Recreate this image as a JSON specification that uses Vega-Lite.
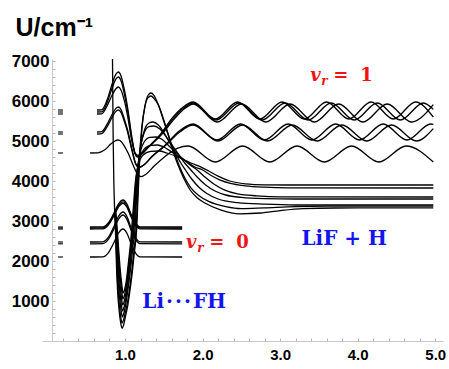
{
"$schema": "https://vega.github.io/schema/vega-lite/v6.json",
"width": 401, "height": 282,
"autosize": "none",
"padding": {"left": 42, "top": 59, "right": 6, "bottom": 28},
"background": "white",
"config": {"view": {"stroke": null}},
"datasets": {
"curves": [
{"c":"a1","x":0.64,"u":5775},{"c":"a1","x":0.70,"u":5780},{"c":"a1","x":0.77,"u":6030},{"c":"a1","x":0.83,"u":6400},{"c":"a1","x":0.88,"u":6660},{"c":"a1","x":0.915,"u":6725},{"c":"a1","x":0.95,"u":6620},{"c":"a1","x":0.99,"u":6300},{"c":"a1","x":1.03,"u":5880},{"c":"a1","x":1.09,"u":5080},{"c":"a1","x":1.13,"u":4680},{"c":"a1","x":1.16,"u":4600},{"c":"a1","x":1.20,"u":4640},{"c":"a1","x":1.30,"u":4850},{"c":"a1","x":1.45,"u":5150},{"c":"a1","x":1.62,"u":5600},{"c":"a1","x":1.75,"u":5850},{"c":"a1","x":1.877,"u":5975},{"c":"a1","x":2.164,"u":5550},{"c":"a1","x":2.451,"u":5975},{"c":"a1","x":2.738,"u":5550},{"c":"a1","x":3.025,"u":5975},{"c":"a1","x":3.312,"u":5550},{"c":"a1","x":3.599,"u":5975},{"c":"a1","x":3.886,"u":5550},{"c":"a1","x":4.173,"u":5975},{"c":"a1","x":4.46,"u":5550},{"c":"a1","x":4.747,"u":5975},{"c":"a1","x":4.975,"u":5600},
{"c":"a2","x":0.64,"u":5725},{"c":"a2","x":0.70,"u":5730},{"c":"a2","x":0.77,"u":5960},{"c":"a2","x":0.83,"u":6300},{"c":"a2","x":0.88,"u":6540},{"c":"a2","x":0.915,"u":6600},{"c":"a2","x":0.95,"u":6500},{"c":"a2","x":0.99,"u":6190},{"c":"a2","x":1.03,"u":5800},{"c":"a2","x":1.09,"u":5030},{"c":"a2","x":1.13,"u":4680},{"c":"a2","x":1.165,"u":4620},{"c":"a2","x":1.21,"u":4670},{"c":"a2","x":1.31,"u":4860},{"c":"a2","x":1.46,"u":5150},{"c":"a2","x":1.63,"u":5580},{"c":"a2","x":1.76,"u":5830},{"c":"a2","x":1.877,"u":5950},{"c":"a2","x":2.174,"u":5525},{"c":"a2","x":2.471,"u":5950},{"c":"a2","x":2.768,"u":5525},{"c":"a2","x":3.065,"u":5950},{"c":"a2","x":3.362,"u":5525},{"c":"a2","x":3.659,"u":5950},{"c":"a2","x":3.956,"u":5525},{"c":"a2","x":4.253,"u":5950},{"c":"a2","x":4.55,"u":5525},{"c":"a2","x":4.847,"u":5950},{"c":"a2","x":4.975,"u":5790},
{"c":"a3","x":0.64,"u":5675},{"c":"a3","x":0.70,"u":5680},{"c":"a3","x":0.77,"u":5880},{"c":"a3","x":0.83,"u":6130},{"c":"a3","x":0.88,"u":6300},{"c":"a3","x":0.915,"u":6350},{"c":"a3","x":0.95,"u":6270},{"c":"a3","x":0.99,"u":6020},{"c":"a3","x":1.03,"u":5660},{"c":"a3","x":1.09,"u":4990},{"c":"a3","x":1.13,"u":4700},{"c":"a3","x":1.17,"u":4640},{"c":"a3","x":1.22,"u":4700},{"c":"a3","x":1.32,"u":4880},{"c":"a3","x":1.47,"u":5160},{"c":"a3","x":1.64,"u":5560},{"c":"a3","x":1.77,"u":5810},{"c":"a3","x":1.877,"u":5925},{"c":"a3","x":2.19,"u":5475},{"c":"a3","x":2.503,"u":5925},{"c":"a3","x":2.816,"u":5475},{"c":"a3","x":3.129,"u":5925},{"c":"a3","x":3.442,"u":5475},{"c":"a3","x":3.755,"u":5925},{"c":"a3","x":4.068,"u":5475},{"c":"a3","x":4.381,"u":5925},{"c":"a3","x":4.694,"u":5475},{"c":"a3","x":4.975,"u":5910},
{"c":"b1","x":0.64,"u":5225},{"c":"b1","x":0.70,"u":5235},{"c":"b1","x":0.77,"u":5420},{"c":"b1","x":0.83,"u":5650},{"c":"b1","x":0.88,"u":5810},{"c":"b1","x":0.915,"u":5850},{"c":"b1","x":0.95,"u":5780},{"c":"b1","x":0.99,"u":5560},{"c":"b1","x":1.03,"u":5300},{"c":"b1","x":1.09,"u":4800},{"c":"b1","x":1.14,"u":4420},{"c":"b1","x":1.18,"u":4330},{"c":"b1","x":1.23,"u":4380},{"c":"b1","x":1.35,"u":4620},{"c":"b1","x":1.52,"u":4900},{"c":"b1","x":1.70,"u":5250},{"c":"b1","x":1.877,"u":5425},{"c":"b1","x":2.184,"u":5025},{"c":"b1","x":2.49,"u":5425},{"c":"b1","x":2.797,"u":5025},{"c":"b1","x":3.103,"u":5425},{"c":"b1","x":3.41,"u":5025},{"c":"b1","x":3.716,"u":5425},{"c":"b1","x":4.023,"u":5025},{"c":"b1","x":4.329,"u":5425},{"c":"b1","x":4.636,"u":5025},{"c":"b1","x":4.942,"u":5425},{"c":"b1","x":4.975,"u":5415},
{"c":"b2","x":0.64,"u":5175},{"c":"b2","x":0.70,"u":5185},{"c":"b2","x":0.77,"u":5360},{"c":"b2","x":0.83,"u":5580},{"c":"b2","x":0.88,"u":5735},{"c":"b2","x":0.915,"u":5775},{"c":"b2","x":0.95,"u":5710},{"c":"b2","x":0.99,"u":5500},{"c":"b2","x":1.03,"u":5250},{"c":"b2","x":1.09,"u":4760},{"c":"b2","x":1.14,"u":4420},{"c":"b2","x":1.185,"u":4350},{"c":"b2","x":1.24,"u":4400},{"c":"b2","x":1.36,"u":4630},{"c":"b2","x":1.53,"u":4900},{"c":"b2","x":1.71,"u":5230},{"c":"b2","x":1.877,"u":5400},{"c":"b2","x":2.197,"u":5000},{"c":"b2","x":2.517,"u":5400},{"c":"b2","x":2.837,"u":5000},{"c":"b2","x":3.157,"u":5400},{"c":"b2","x":3.477,"u":5000},{"c":"b2","x":3.797,"u":5400},{"c":"b2","x":4.117,"u":5000},{"c":"b2","x":4.437,"u":5400},{"c":"b2","x":4.757,"u":5000},{"c":"b2","x":4.975,"u":5310},
{"c":"c1","x":0.55,"u":4700},{"c":"c1","x":0.65,"u":4705},{"c":"c1","x":0.74,"u":4780},{"c":"c1","x":0.82,"u":4930},{"c":"c1","x":0.87,"u":5000},{"c":"c1","x":0.91,"u":5025},{"c":"c1","x":0.95,"u":4990},{"c":"c1","x":0.99,"u":4880},{"c":"c1","x":1.04,"u":4700},{"c":"c1","x":1.10,"u":4420},{"c":"c1","x":1.16,"u":4180},{"c":"c1","x":1.21,"u":4110},{"c":"c1","x":1.27,"u":4170},{"c":"c1","x":1.38,"u":4380},{"c":"c1","x":1.52,"u":4620},{"c":"c1","x":1.68,"u":4820},{"c":"c1","x":1.813,"u":4875},{"c":"c1","x":2.164,"u":4475},{"c":"c1","x":2.516,"u":4875},{"c":"c1","x":2.867,"u":4475},{"c":"c1","x":3.219,"u":4875},{"c":"c1","x":3.57,"u":4475},{"c":"c1","x":3.922,"u":4875},{"c":"c1","x":4.273,"u":4475},{"c":"c1","x":4.625,"u":4875},{"c":"c1","x":4.975,"u":4475},
{"c":"v1","x":0.839,"u":7050},{"c":"v1","x":0.843,"u":6000},{"c":"v1","x":0.848,"u":5000},{"c":"v1","x":0.856,"u":4000},{"c":"v1","x":0.866,"u":3300},{"c":"v1","x":0.877,"u":2775},{"c":"v1","x":0.89,"u":1900},{"c":"v1","x":0.903,"u":1300},{"c":"v1","x":0.925,"u":750},{"c":"v1","x":0.945,"u":450},{"c":"v1","x":0.962,"u":320},{"c":"v1","x":0.985,"u":420},{"c":"v1","x":1.01,"u":650},{"c":"v1","x":1.035,"u":880},{"c":"v1","x":1.06,"u":1200},{"c":"v1","x":1.09,"u":1650},{"c":"v1","x":1.12,"u":2200},{"c":"v1","x":1.15,"u":2775},{"c":"v1","x":1.17,"u":3700},{"c":"v1","x":1.19,"u":4550},{"c":"v1","x":1.22,"u":5350},{"c":"v1","x":1.26,"u":5900},{"c":"v1","x":1.30,"u":6150},{"c":"v1","x":1.335,"u":6200},{"c":"v1","x":1.37,"u":6150},{"c":"v1","x":1.41,"u":6000},{"c":"v1","x":1.452,"u":5800},{"c":"v1","x":1.52,"u":5400},{"c":"v1","x":1.58,"u":5000},{"c":"v1","x":1.645,"u":4600},{"c":"v1","x":1.71,"u":4275},{"c":"v1","x":1.78,"u":3980},{"c":"v1","x":1.84,"u":3775},{"c":"v1","x":1.93,"u":3580},{"c":"v1","x":2.03,"u":3450},{"c":"v1","x":2.23,"u":3280},{"c":"v1","x":2.48,"u":3180},{"c":"v1","x":2.75,"u":3200},{"c":"v1","x":3.0,"u":3260},{"c":"v1","x":3.3,"u":3310},{"c":"v1","x":3.7,"u":3325},{"c":"v1","x":4.975,"u":3330},
{"c":"v2","x":0.867,"u":3300},{"c":"v2","x":0.88,"u":2775},{"c":"v2","x":0.895,"u":1900},{"c":"v2","x":0.91,"u":1300},{"c":"v2","x":0.93,"u":850},{"c":"v2","x":0.948,"u":560},{"c":"v2","x":0.963,"u":450},{"c":"v2","x":0.982,"u":530},{"c":"v2","x":1.005,"u":720},{"c":"v2","x":1.03,"u":950},{"c":"v2","x":1.055,"u":1250},{"c":"v2","x":1.085,"u":1700},{"c":"v2","x":1.115,"u":2250},{"c":"v2","x":1.142,"u":2775},{"c":"v2","x":1.165,"u":3700},{"c":"v2","x":1.185,"u":4550},{"c":"v2","x":1.215,"u":5300},{"c":"v2","x":1.255,"u":5850},{"c":"v2","x":1.295,"u":6080},{"c":"v2","x":1.335,"u":6125},{"c":"v2","x":1.375,"u":6060},{"c":"v2","x":1.43,"u":5900},{"c":"v2","x":1.49,"u":5550},{"c":"v2","x":1.56,"u":5150},{"c":"v2","x":1.63,"u":4750},{"c":"v2","x":1.70,"u":4380},{"c":"v2","x":1.77,"u":4080},{"c":"v2","x":1.85,"u":3830},{"c":"v2","x":1.95,"u":3640},{"c":"v2","x":2.08,"u":3490},{"c":"v2","x":2.3,"u":3360},{"c":"v2","x":2.5,"u":3310},{"c":"v2","x":2.8,"u":3330},{"c":"v2","x":3.2,"u":3360},{"c":"v2","x":3.6,"u":3370},{"c":"v2","x":4.975,"u":3370},
{"c":"v3","x":0.869,"u":3300},{"c":"v3","x":0.884,"u":2775},{"c":"v3","x":0.9,"u":1900},{"c":"v3","x":0.916,"u":1400},{"c":"v3","x":0.935,"u":1000},{"c":"v3","x":0.952,"u":740},{"c":"v3","x":0.966,"u":600},{"c":"v3","x":0.983,"u":680},{"c":"v3","x":1.003,"u":850},{"c":"v3","x":1.025,"u":1100},{"c":"v3","x":1.05,"u":1450},{"c":"v3","x":1.078,"u":1900},{"c":"v3","x":1.105,"u":2400},{"c":"v3","x":1.128,"u":2775},{"c":"v3","x":1.15,"u":3600},{"c":"v3","x":1.175,"u":4400},{"c":"v3","x":1.21,"u":4950},{"c":"v3","x":1.26,"u":5320},{"c":"v3","x":1.31,"u":5450},{"c":"v3","x":1.361,"u":5475},{"c":"v3","x":1.43,"u":5400},{"c":"v3","x":1.52,"u":5150},{"c":"v3","x":1.62,"u":4800},{"c":"v3","x":1.72,"u":4450},{"c":"v3","x":1.78,"u":4275},{"c":"v3","x":1.86,"u":4050},{"c":"v3","x":1.95,"u":3850},{"c":"v3","x":2.06,"u":3680},{"c":"v3","x":2.2,"u":3550},{"c":"v3","x":2.45,"u":3460},{"c":"v3","x":2.8,"u":3420},{"c":"v3","x":3.2,"u":3400},{"c":"v3","x":4.975,"u":3400},
{"c":"v4","x":0.871,"u":3300},{"c":"v4","x":0.888,"u":2775},{"c":"v4","x":0.905,"u":2000},{"c":"v4","x":0.922,"u":1500},{"c":"v4","x":0.94,"u":1120},{"c":"v4","x":0.955,"u":880},{"c":"v4","x":0.968,"u":750},{"c":"v4","x":0.984,"u":820},{"c":"v4","x":1.003,"u":980},{"c":"v4","x":1.023,"u":1200},{"c":"v4","x":1.047,"u":1550},{"c":"v4","x":1.072,"u":2000},{"c":"v4","x":1.095,"u":2450},{"c":"v4","x":1.115,"u":2775},{"c":"v4","x":1.14,"u":3550},{"c":"v4","x":1.165,"u":4300},{"c":"v4","x":1.2,"u":4850},{"c":"v4","x":1.25,"u":5220},{"c":"v4","x":1.31,"u":5360},{"c":"v4","x":1.374,"u":5375},{"c":"v4","x":1.45,"u":5300},{"c":"v4","x":1.55,"u":5050},{"c":"v4","x":1.66,"u":4750},{"c":"v4","x":1.77,"u":4450},{"c":"v4","x":1.85,"u":4275},{"c":"v4","x":1.93,"u":4100},{"c":"v4","x":2.04,"u":3900},{"c":"v4","x":2.16,"u":3750},{"c":"v4","x":2.3,"u":3650},{"c":"v4","x":2.5,"u":3590},{"c":"v4","x":2.8,"u":3560},{"c":"v4","x":3.2,"u":3550},{"c":"v4","x":4.975,"u":3550},
{"c":"v5","x":0.873,"u":3300},{"c":"v5","x":0.892,"u":2775},{"c":"v5","x":0.91,"u":2100},{"c":"v5","x":0.928,"u":1600},{"c":"v5","x":0.945,"u":1250},{"c":"v5","x":0.958,"u":1030},{"c":"v5","x":0.97,"u":900},{"c":"v5","x":0.985,"u":960},{"c":"v5","x":1.003,"u":1100},{"c":"v5","x":1.022,"u":1320},{"c":"v5","x":1.043,"u":1650},{"c":"v5","x":1.066,"u":2050},{"c":"v5","x":1.088,"u":2450},{"c":"v5","x":1.105,"u":2775},{"c":"v5","x":1.13,"u":3500},{"c":"v5","x":1.155,"u":4200},{"c":"v5","x":1.19,"u":4650},{"c":"v5","x":1.24,"u":4950},{"c":"v5","x":1.32,"u":5090},{"c":"v5","x":1.4,"u":5100},{"c":"v5","x":1.47,"u":5050},{"c":"v5","x":1.58,"u":4850},{"c":"v5","x":1.72,"u":4600},{"c":"v5","x":1.84,"u":4400},{"c":"v5","x":1.93,"u":4275},{"c":"v5","x":2.03,"u":4100},{"c":"v5","x":2.15,"u":3920},{"c":"v5","x":2.28,"u":3780},{"c":"v5","x":2.45,"u":3680},{"c":"v5","x":2.7,"u":3630},{"c":"v5","x":3.0,"u":3605},{"c":"v5","x":4.975,"u":3600},
{"c":"v6","x":0.875,"u":3300},{"c":"v6","x":0.896,"u":2775},{"c":"v6","x":0.915,"u":2200},{"c":"v6","x":0.933,"u":1700},{"c":"v6","x":0.95,"u":1380},{"c":"v6","x":0.962,"u":1170},{"c":"v6","x":0.972,"u":1050},{"c":"v6","x":0.986,"u":1100},{"c":"v6","x":1.003,"u":1230},{"c":"v6","x":1.021,"u":1440},{"c":"v6","x":1.04,"u":1750},{"c":"v6","x":1.06,"u":2100},{"c":"v6","x":1.08,"u":2450},{"c":"v6","x":1.095,"u":2775},{"c":"v6","x":1.12,"u":3450},{"c":"v6","x":1.145,"u":4100},{"c":"v6","x":1.18,"u":4500},{"c":"v6","x":1.24,"u":4780},{"c":"v6","x":1.33,"u":4890},{"c":"v6","x":1.42,"u":4900},{"c":"v6","x":1.5,"u":4850},{"c":"v6","x":1.62,"u":4700},{"c":"v6","x":1.78,"u":4500},{"c":"v6","x":1.9,"u":4350},{"c":"v6","x":2.0,"u":4275},{"c":"v6","x":2.1,"u":4150},{"c":"v6","x":2.22,"u":4030},{"c":"v6","x":2.36,"u":3940},{"c":"v6","x":2.55,"u":3880},{"c":"v6","x":2.8,"u":3845},{"c":"v6","x":3.1,"u":3830},{"c":"v6","x":4.975,"u":3825},
{"c":"v7","x":0.877,"u":3300},{"c":"v7","x":0.9,"u":2775},{"c":"v7","x":0.92,"u":2250},{"c":"v7","x":0.938,"u":1800},{"c":"v7","x":0.954,"u":1500},{"c":"v7","x":0.965,"u":1310},{"c":"v7","x":0.974,"u":1200},{"c":"v7","x":0.987,"u":1240},{"c":"v7","x":1.003,"u":1350},{"c":"v7","x":1.02,"u":1550},{"c":"v7","x":1.038,"u":1850},{"c":"v7","x":1.056,"u":2170},{"c":"v7","x":1.073,"u":2480},{"c":"v7","x":1.085,"u":2775},{"c":"v7","x":1.11,"u":3400},{"c":"v7","x":1.135,"u":4000},{"c":"v7","x":1.17,"u":4380},{"c":"v7","x":1.23,"u":4640},{"c":"v7","x":1.33,"u":4740},{"c":"v7","x":1.44,"u":4750},{"c":"v7","x":1.54,"u":4700},{"c":"v7","x":1.68,"u":4600},{"c":"v7","x":1.85,"u":4450},{"c":"v7","x":2.0,"u":4330},{"c":"v7","x":2.08,"u":4250},{"c":"v7","x":2.2,"u":4120},{"c":"v7","x":2.35,"u":4000},{"c":"v7","x":2.55,"u":3930},{"c":"v7","x":2.8,"u":3905},{"c":"v7","x":3.1,"u":3900},{"c":"v7","x":4.975,"u":3900},
{"c":"z1","x":0.548,"u":2850},{"c":"z1","x":0.715,"u":2853},{"c":"z1","x":0.785,"u":2951},{"c":"z1","x":0.855,"u":3188},{"c":"z1","x":0.915,"u":3424},{"c":"z1","x":0.975,"u":3525},{"c":"z1","x":1.025,"u":3424},{"c":"z1","x":1.075,"u":3188},{"c":"z1","x":1.135,"u":2951},{"c":"z1","x":1.195,"u":2853},{"c":"z1","x":1.737,"u":2850},
{"c":"z2","x":0.548,"u":2825},{"c":"z2","x":0.715,"u":2828},{"c":"z2","x":0.785,"u":2923},{"c":"z2","x":0.855,"u":3153},{"c":"z2","x":0.915,"u":3382},{"c":"z2","x":0.975,"u":3480},{"c":"z2","x":1.025,"u":3382},{"c":"z2","x":1.075,"u":3153},{"c":"z2","x":1.135,"u":2923},{"c":"z2","x":1.195,"u":2828},{"c":"z2","x":1.737,"u":2825},
{"c":"z3","x":0.548,"u":2800},{"c":"z3","x":0.715,"u":2803},{"c":"z3","x":0.785,"u":2896},{"c":"z3","x":0.855,"u":3120},{"c":"z3","x":0.915,"u":3344},{"c":"z3","x":0.975,"u":3440},{"c":"z3","x":1.025,"u":3344},{"c":"z3","x":1.075,"u":3120},{"c":"z3","x":1.135,"u":2896},{"c":"z3","x":1.195,"u":2803},{"c":"z3","x":1.737,"u":2800},
{"c":"z4","x":0.548,"u":2475},{"c":"z4","x":0.715,"u":2479},{"c":"z4","x":0.785,"u":2588},{"c":"z4","x":0.855,"u":2850},{"c":"z4","x":0.915,"u":3113},{"c":"z4","x":0.975,"u":3225},{"c":"z4","x":1.025,"u":3113},{"c":"z4","x":1.075,"u":2850},{"c":"z4","x":1.135,"u":2588},{"c":"z4","x":1.195,"u":2479},{"c":"z4","x":1.737,"u":2475},
{"c":"z5","x":0.548,"u":2430},{"c":"z5","x":0.715,"u":2434},{"c":"z5","x":0.785,"u":2538},{"c":"z5","x":0.855,"u":2790},{"c":"z5","x":0.915,"u":3042},{"c":"z5","x":0.975,"u":3150},{"c":"z5","x":1.025,"u":3042},{"c":"z5","x":1.075,"u":2790},{"c":"z5","x":1.135,"u":2538},{"c":"z5","x":1.195,"u":2434},{"c":"z5","x":1.737,"u":2430},
{"c":"z6","x":0.548,"u":2100},{"c":"z6","x":0.715,"u":2104},{"c":"z6","x":0.785,"u":2205},{"c":"z6","x":0.855,"u":2450},{"c":"z6","x":0.915,"u":2695},{"c":"z6","x":0.975,"u":2800},{"c":"z6","x":1.025,"u":2695},{"c":"z6","x":1.075,"u":2450},{"c":"z6","x":1.135,"u":2205},{"c":"z6","x":1.195,"u":2104},{"c":"z6","x":1.737,"u":2100}
],
"levels": [
{"x":0.137,"x2":0.2,"u":5775},{"x":0.137,"x2":0.2,"u":5725},{"x":0.137,"x2":0.2,"u":5675},{"x":0.137,"x2":0.2,"u":5225},{"x":0.137,"x2":0.2,"u":5175},{"x":0.137,"x2":0.2,"u":4700},
{"x":0.137,"x2":0.2,"u":2850},{"x":0.137,"x2":0.2,"u":2825},{"x":0.137,"x2":0.2,"u":2800},{"x":0.137,"x2":0.2,"u":2475},{"x":0.137,"x2":0.2,"u":2430},{"x":0.137,"x2":0.2,"u":2100}
],
"vsym": [{"x":3.388,"u":6500,"t":"v"},{"x":1.788,"u":2325,"t":"v"}],
"vsub": [{"x":3.53,"u":6400,"t":"r"},{"x":1.93,"u":2225,"t":"r"}],
"vrest": [{"x":3.685,"u":6500,"t":"="},{"x":4.034,"u":6500,"t":"1"},{"x":2.085,"u":2325,"t":"="},{"x":2.434,"u":2325,"t":"0"}],
"names": [{"x":3.827,"u":2400,"t":"LiF + H"},{"x":1.763,"u":825,"t":"Li\u200a·\u200a·\u200a·\u200aFH"}]
},
"encoding": {
"x": {"field": "x", "type": "quantitative", "scale": {"domain": [-0.07, 5.1], "nice": false, "zero": false},
 "axis": {"title": null, "values": [0.2,0.4,0.6,0.8,1,1.2,1.4,1.6,1.8,2,2.2,2.4,2.6,2.8,3,3.2,3.4,3.6,3.8,4,4.2,4.4,4.6,4.8,5],
  "labelExpr": "abs(datum.value - round(datum.value)) < 0.01 ? format(datum.value, '.1f') : ''",
  "grid": false, "domainColor": "#c8c8c8", "tickColor": "#b4b4b4", "tickSize": -3, "tickWidth": 1,
  "labelFont": "Liberation Sans", "labelFontSize": 15, "labelFontWeight": "bold", "labelColor": "#000",
  "labelPadding": 9, "labelOverlap": false, "labelFlush": false}},
"y": {"field": "u", "type": "quantitative", "scale": {"domain": [0, 7050], "nice": false, "zero": false},
 "axis": {"title": "U/cm⁻¹", "titleAngle": 0, "titleAlign": "left", "titleBaseline": "alphabetic", "titleX": -37, "titleY": -24,
  "titleFont": "Liberation Sans", "titleFontSize": 25, "titleFontWeight": "bold", "titleColor": "#000",
  "values": [200,400,600,800,1000,1200,1400,1600,1800,2000,2200,2400,2600,2800,3000,3200,3400,3600,3800,4000,4200,4400,4600,4800,5000,5200,5400,5600,5800,6000,6200,6400,6600,6800,7000],
  "labelExpr": "datum.value % 1000 == 0 && datum.value > 0 ? '' + datum.value : ''",
  "offset": -10, "grid": false, "domainColor": "#c8c8c8", "tickColor": "#b4b4b4", "tickSize": -3, "tickWidth": 1,
  "labelFont": "Liberation Sans", "labelFontSize": 17, "labelFontWeight": "bold", "labelColor": "#000",
  "labelPadding": 6, "labelOverlap": false, "labelFlush": false}}
},
"layer": [
{"data": {"name": "curves"}, "mark": {"type": "line", "interpolate": "monotone", "color": "#000", "strokeWidth": 1.3, "clip": true},
 "encoding": {"detail": {"field": "c"}}},
{"data": {"name": "levels"}, "mark": {"type": "rule", "color": "#000", "strokeWidth": 1.1},
 "encoding": {"x2": {"field": "x2"}}},
{"data": {"name": "vsym"}, "mark": {"type": "text", "font": "DejaVu Serif", "fontStyle": "italic", "fontWeight": "bold", "fontSize": 18, "color": "#f01414", "align": "left", "baseline": "alphabetic"},
 "encoding": {"text": {"field": "t"}}},
{"data": {"name": "vsub"}, "mark": {"type": "text", "font": "DejaVu Serif", "fontStyle": "italic", "fontWeight": "bold", "fontSize": 12, "color": "#f01414", "align": "left", "baseline": "alphabetic"},
 "encoding": {"text": {"field": "t"}}},
{"data": {"name": "vrest"}, "mark": {"type": "text", "font": "DejaVu Serif", "fontWeight": "bold", "fontSize": 18, "color": "#f01414", "align": "left", "baseline": "alphabetic"},
 "encoding": {"text": {"field": "t"}}},
{"data": {"name": "names"}, "mark": {"type": "text", "font": "DejaVu Serif", "fontWeight": "bold", "fontSize": 20, "color": "#1414f0", "align": "center", "baseline": "alphabetic"},
 "encoding": {"text": {"field": "t"}}}
]
}
